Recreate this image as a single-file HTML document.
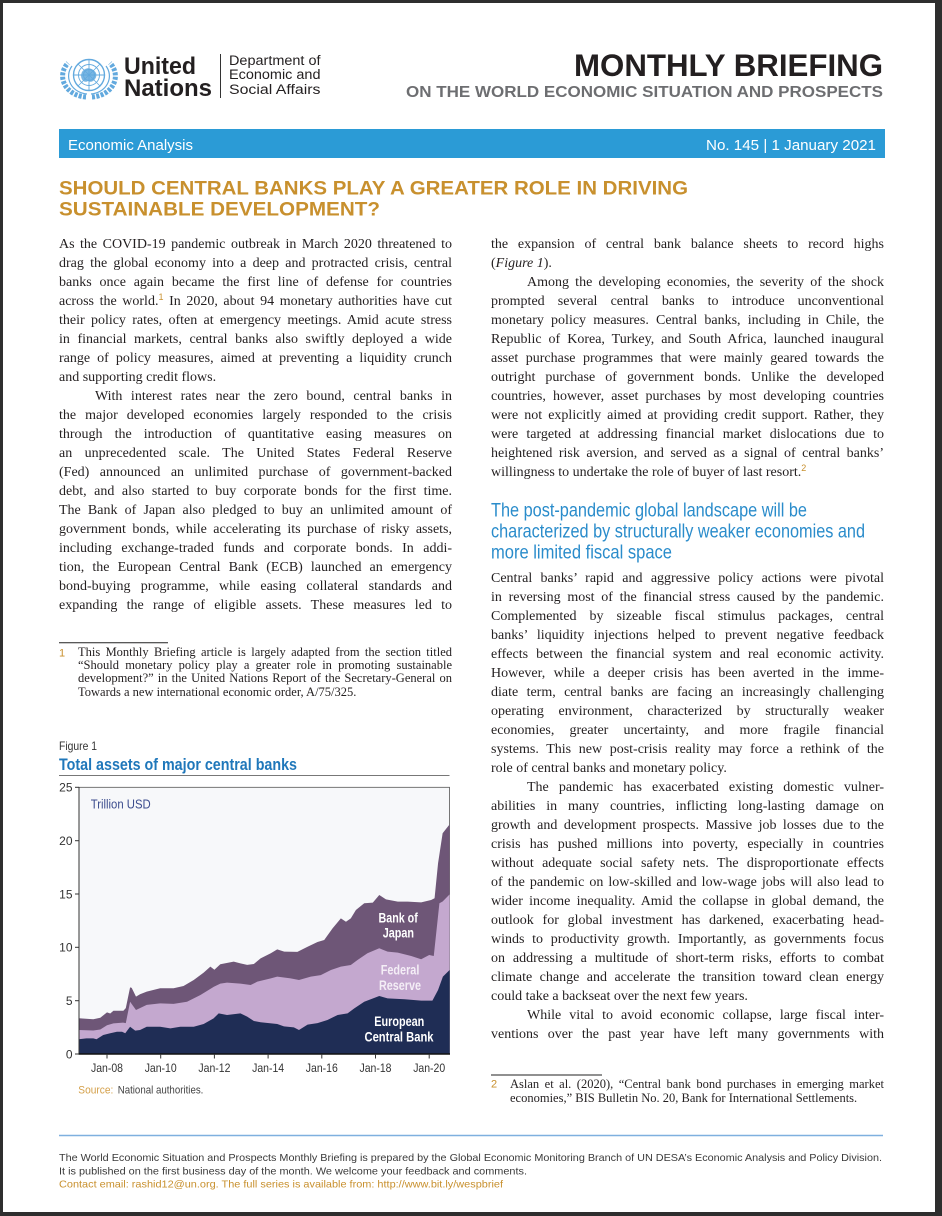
<!DOCTYPE html>
<html><head><meta charset="utf-8">
<style>
html,body{margin:0;padding:0;}
body{width:942px;height:1216px;background:#2e2e2e;position:relative;overflow:hidden;}
#page{position:absolute;left:3px;top:3px;width:932px;height:1209px;background:#fff;}
svg{position:absolute;left:0;top:0;}
.col{position:absolute;width:393px;font-family:"Liberation Serif",serif;font-size:14px;color:#231f20;}
.col div{height:19px;line-height:19px;text-align:justify;text-align-last:justify;overflow:visible;}
.col div.e{text-align:left;text-align-last:left;}
.col div.i{padding-left:36px;}
.fn{position:absolute;width:374px;font-family:"Liberation Serif",serif;font-size:12.5px;color:#231f20;}
.fn div{text-align:justify;text-align-last:justify;}
.fn div.e{text-align:left;text-align-last:left;}
.s{font-family:"Liberation Sans",sans-serif;font-size:9px;color:#c8902e;position:relative;top:-5px;}
</style></head>
<body>
<div id="page"></div>
<svg width="942" height="1216" viewBox="0 0 942 1216" xmlns="http://www.w3.org/2000/svg" font-family="Liberation Sans, sans-serif">
  <!-- UN emblem -->
  <g transform="translate(89,75)" fill="none" stroke="#62a9de">
    <circle r="15.5" stroke-width="1.4"/>
    <circle r="10.5" stroke-width="0.9"/>
    <circle r="5.5" stroke-width="0.9"/>
    <line x1="-15.5" y1="0" x2="15.5" y2="0" stroke-width="0.9"/>
    <line x1="0" y1="-15.5" x2="0" y2="15.5" stroke-width="0.9"/>
    <line x1="-11" y1="-11" x2="11" y2="11" stroke-width="0.8"/>
    <line x1="-11" y1="11" x2="11" y2="-11" stroke-width="0.8"/>
    <path d="M-7,-3 C-3,-9 4,-7 7,-2 C9,3 3,9 -1,6 C-5,9 -10,3 -7,-3Z" fill="#62a9de" stroke="none" opacity="0.85"/>
    <path d="M-3,22 A25 21 0 0 1 -21,-12" stroke-width="5" stroke-dasharray="3 1.4"/>
    <path d="M3,22 A25 21 0 0 0 21,-12" stroke-width="5" stroke-dasharray="3 1.4"/>
    <path d="M-2,19 A20 18 0 0 1 -17,-9" stroke-width="1.2"/>
    <path d="M2,19 A20 18 0 0 0 17,-9" stroke-width="1.2"/>
  </g>
  <text x="124" y="74" font-size="24" font-weight="bold" fill="#231f20" textLength="72" lengthAdjust="spacingAndGlyphs">United</text>
  <text x="124" y="96" font-size="24" font-weight="bold" fill="#231f20" textLength="88" lengthAdjust="spacingAndGlyphs">Nations</text>
  <line x1="220.5" y1="54" x2="220.5" y2="98" stroke="#333" stroke-width="1"/>
  <text x="229" y="65" font-size="13.5" fill="#231f20" textLength="91.5" lengthAdjust="spacingAndGlyphs">Department of</text>
  <text x="229" y="79" font-size="13.5" fill="#231f20" textLength="91.5" lengthAdjust="spacingAndGlyphs">Economic and</text>
  <text x="229" y="94" font-size="13.5" fill="#231f20" textLength="91.5" lengthAdjust="spacingAndGlyphs">Social Affairs</text>

  <text x="574" y="76" font-size="31.5" font-weight="bold" fill="#231f20" textLength="309" lengthAdjust="spacingAndGlyphs">MONTHLY BRIEFING</text>
  <text x="406" y="97" font-size="16" font-weight="bold" fill="#6d6e71" textLength="477" lengthAdjust="spacingAndGlyphs">ON THE WORLD ECONOMIC SITUATION AND PROSPECTS</text>

  <rect x="59" y="129" width="826" height="29" fill="#2b9bd6"/>
  <text x="68" y="150" font-size="15" fill="#fff" textLength="125" lengthAdjust="spacingAndGlyphs">Economic Analysis</text>
  <text x="706" y="150" font-size="15" fill="#fff" textLength="170" lengthAdjust="spacingAndGlyphs">No. 145 | 1 January 2021</text>

  <text x="59" y="194.5" font-size="19.5" font-weight="bold" fill="#c8902e" textLength="629" lengthAdjust="spacingAndGlyphs">SHOULD CENTRAL BANKS PLAY A GREATER ROLE IN DRIVING</text>
  <text x="59" y="215.5" font-size="19.5" font-weight="bold" fill="#c8902e" textLength="321" lengthAdjust="spacingAndGlyphs">SUSTAINABLE DEVELOPMENT?</text>

  <!-- right heading -->
  <text x="491" y="516.7" font-size="19.5" fill="#2a8ccb" textLength="316" lengthAdjust="spacingAndGlyphs">The post-pandemic global landscape will be</text>
  <text x="491" y="537.5" font-size="19.5" fill="#2a8ccb" textLength="374" lengthAdjust="spacingAndGlyphs">characterized by structurally weaker economies and</text>
  <text x="491" y="558.5" font-size="19.5" fill="#2a8ccb" textLength="181" lengthAdjust="spacingAndGlyphs">more limited fiscal space</text>

  <!-- footnote rules & numbers -->
  <line x1="59" y1="642.7" x2="168" y2="642.7" stroke="#222" stroke-width="1"/>
  <text x="59" y="656.7" font-size="11" fill="#c8902e">1</text>
  <line x1="491" y1="1075" x2="602" y2="1075" stroke="#222" stroke-width="1"/>
  <text x="491" y="1087.7" font-size="11" fill="#c8902e">2</text>

  <!-- Figure -->
  <text x="59" y="750" font-size="12" fill="#333" textLength="38" lengthAdjust="spacingAndGlyphs">Figure 1</text>
  <text x="59" y="770" font-size="16.5" font-weight="bold" fill="#1f77ba" textLength="238" lengthAdjust="spacingAndGlyphs">Total assets of major central banks</text>
  <line x1="59" y1="775.5" x2="449.5" y2="775.5" stroke="#777" stroke-width="1"/>
  <rect x="79" y="787.3" width="370.5" height="266.7" fill="#f7f8fa" stroke="#555" stroke-width="0.8"/>

  <g transform="translate(107,1054) scale(26.85,-10.667)" stroke="none">
    <polygon fill="#6e5677" points="-1.05,0 -1.05,3.35 -0.51,3.26 -0.25,3.4 0,3.9 0.12,3.8 0.24,4.06 0.61,4.06 0.7,4.3 0.86,6.25 0.92,6.2 1.08,5.38 1.23,5.6 1.48,5.85 1.98,6.16 2.48,6.16 2.85,6.38 3.23,6.94 3.6,7.63 3.85,8.19 4.0,7.9 4.22,8.41 4.72,8.66 4.97,8.5 5.22,8.35 5.47,8.44 5.72,8.97 6.1,9.44 6.34,9.81 6.6,9.6 7.09,9.57 7.47,10.06 7.84,10.5 8.09,10.69 8.4,11.78 8.71,12.72 8.9,12.4 9.08,12.72 9.27,13.5 9.58,14.13 9.9,14.19 10.14,14.9 10.39,14.5 10.83,14.28 11.2,14.28 11.7,14.22 12.07,14.44 12.2,14.6 12.33,17.88 12.5,20.69 12.76,21.53 12.76,0"/>
    <polygon fill="#c4a8cf" points="-1.05,0 -1.05,2.25 -0.51,2.2 -0.25,2.3 0,2.7 0.24,2.87 0.6,2.94 0.7,2.9 0.86,4.9 1.08,4.12 1.48,4.6 1.98,4.75 2.48,4.7 2.98,4.9 3.48,5.53 3.98,6.31 4.22,6.6 4.47,6.69 4.97,6.6 5.35,6.47 5.6,6.78 6.1,7.09 6.34,7.25 6.84,7.09 7.15,6.94 7.59,7.25 7.96,7.4 8.34,7.87 8.71,8.19 9.08,8.34 9.33,8.81 9.7,9.44 10.14,9.91 10.45,9.6 10.83,9.5 11.33,9.19 11.7,8.88 12.0,9.28 12.17,9.19 12.38,14.13 12.5,14.3 12.76,14.97 12.76,0"/>
    <polygon fill="#1f2d55" points="-1.05,0 -1.05,1.38 -0.77,1.47 -0.51,1.47 -0.39,1.38 -0.14,1.78 0.12,1.94 0.37,2.09 0.56,2.09 0.68,1.94 0.86,2.56 1.05,2.19 1.23,2.25 1.48,2.56 1.98,2.56 2.36,2.4 2.73,2.56 3.23,2.56 3.6,2.81 3.97,3.34 4.16,3.81 4.47,3.66 4.97,3.81 5.22,3.5 5.47,3.09 5.72,2.98 6.34,2.81 6.59,2.59 6.96,2.5 7.15,2.25 7.47,2.75 7.84,2.9 8.21,3.19 8.59,3.66 8.96,3.81 9.21,4.28 9.58,4.9 10.14,5.44 10.45,5.22 11.08,5.13 11.7,5.0 12.12,5.0 12.33,6.0 12.51,7.25 12.76,7.87 12.76,0"/>
  </g>
  <line x1="79" y1="787" x2="79" y2="1054" stroke="#333" stroke-width="1"/>
  <line x1="78.5" y1="1054" x2="450" y2="1054" stroke="#111" stroke-width="1.5"/>
  <g stroke="#333" stroke-width="1">
    <line x1="75" y1="1054" x2="79" y2="1054"/>
    <line x1="75" y1="1000.7" x2="79" y2="1000.7"/>
    <line x1="75" y1="947.3" x2="79" y2="947.3"/>
    <line x1="75" y1="894" x2="79" y2="894"/>
    <line x1="75" y1="840.7" x2="79" y2="840.7"/>
    <line x1="75" y1="787.3" x2="79" y2="787.3"/>
    <line x1="107" y1="1054" x2="107" y2="1058.5"/>
    <line x1="160.7" y1="1054" x2="160.7" y2="1058.5"/>
    <line x1="214.4" y1="1054" x2="214.4" y2="1058.5"/>
    <line x1="268.1" y1="1054" x2="268.1" y2="1058.5"/>
    <line x1="321.8" y1="1054" x2="321.8" y2="1058.5"/>
    <line x1="375.5" y1="1054" x2="375.5" y2="1058.5"/>
    <line x1="429.2" y1="1054" x2="429.2" y2="1058.5"/>
  </g>
  <g font-size="12" fill="#333" text-anchor="end">
    <text x="72.5" y="1058.3">0</text>
    <text x="72.5" y="1005">5</text>
    <text x="72.5" y="951.6">10</text>
    <text x="72.5" y="898.3">15</text>
    <text x="72.5" y="845">20</text>
    <text x="72.5" y="791.6">25</text>
  </g>
  <g font-size="12" fill="#333">
    <text x="91" y="1072" textLength="32" lengthAdjust="spacingAndGlyphs">Jan-08</text>
    <text x="144.7" y="1072" textLength="32" lengthAdjust="spacingAndGlyphs">Jan-10</text>
    <text x="198.4" y="1072" textLength="32" lengthAdjust="spacingAndGlyphs">Jan-12</text>
    <text x="252.1" y="1072" textLength="32" lengthAdjust="spacingAndGlyphs">Jan-14</text>
    <text x="305.8" y="1072" textLength="32" lengthAdjust="spacingAndGlyphs">Jan-16</text>
    <text x="359.5" y="1072" textLength="32" lengthAdjust="spacingAndGlyphs">Jan-18</text>
    <text x="413.2" y="1072" textLength="32" lengthAdjust="spacingAndGlyphs">Jan-20</text>
  </g>
  <text x="90.7" y="808.3" font-size="13" fill="#3c4d8e" textLength="60" lengthAdjust="spacingAndGlyphs">Trillion USD</text>
  <g font-size="13.5" font-weight="bold" fill="#fff">
    <text x="378.5" y="922.3" textLength="39.3" lengthAdjust="spacingAndGlyphs">Bank of</text>
    <text x="382.7" y="937.3" textLength="31.3" lengthAdjust="spacingAndGlyphs">Japan</text>
    <text x="380.7" y="974.3" textLength="38.7" lengthAdjust="spacingAndGlyphs" fill="#f4eef6">Federal</text>
    <text x="379" y="990" textLength="42" lengthAdjust="spacingAndGlyphs" fill="#f4eef6">Reserve</text>
    <text x="374.3" y="1026" textLength="50" lengthAdjust="spacingAndGlyphs">European</text>
    <text x="364.5" y="1041.7" textLength="69" lengthAdjust="spacingAndGlyphs">Central Bank</text>
  </g>
  <text x="78.3" y="1093.3" font-size="11" fill="#d4a04a" textLength="35" lengthAdjust="spacingAndGlyphs">Source:</text>
  <text x="117.7" y="1093.3" font-size="11" fill="#444" textLength="85.7" lengthAdjust="spacingAndGlyphs">National authorities.</text>

  <!-- footer -->
  <line x1="59" y1="1135.5" x2="883" y2="1135.5" stroke="#7fb0df" stroke-width="1.5"/>
  <text x="59" y="1161" font-size="10.5" fill="#3a3a3a" textLength="823" lengthAdjust="spacingAndGlyphs">The World Economic Situation and Prospects Monthly Briefing is prepared by the Global Economic Monitoring Branch of UN DESA’s Economic Analysis and Policy Division.</text>
  <text x="59" y="1174.3" font-size="10.5" fill="#3a3a3a" textLength="468" lengthAdjust="spacingAndGlyphs">It is published on the first business day of the month. We welcome your feedback and comments.</text>
  <text x="59" y="1187.7" font-size="10.5" fill="#c8902e" textLength="444" lengthAdjust="spacingAndGlyphs">Contact email: rashid12@un.org. The full series is available from: http://www.bit.ly/wespbrief</text>
</svg>

<div class="col" style="left:59px;top:234.5px;">
<div>As the COVID-19 pandemic outbreak in March 2020 threatened to</div>
<div>drag the global economy into a deep and protracted crisis, central</div>
<div>banks once again became the first line of defense for countries</div>
<div>across the world.<span class="s">1</span> In 2020, about 94 monetary authorities have cut</div>
<div>their policy rates, often at emergency meetings. Amid acute stress</div>
<div>in financial markets, central banks also swiftly deployed a wide</div>
<div>range of policy measures, aimed at preventing a liquidity crunch</div>
<div class="e">and supporting credit flows.</div>
<div class="i">With interest rates near the zero bound, central banks in</div>
<div>the major developed economies largely responded to the crisis</div>
<div>through the introduction of quantitative easing measures on</div>
<div>an unprecedented scale. The United States Federal Reserve</div>
<div>(Fed) announced an unlimited purchase of government-backed</div>
<div>debt, and also started to buy corporate bonds for the first time.</div>
<div>The Bank of Japan also pledged to buy an unlimited amount of</div>
<div>government bonds, while accelerating its purchase of risky assets,</div>
<div>including exchange-traded funds and corporate bonds. In addi-</div>
<div>tion, the European Central Bank (ECB) launched an emergency</div>
<div>bond-buying programme, while easing collateral standards and</div>
<div>expanding the range of eligible assets. These measures led to</div>
</div>

<div class="fn" style="left:78px;top:646px;line-height:13.2px;">
<div>This Monthly Briefing article is largely adapted from the section titled</div>
<div>“Should monetary policy play a greater role in promoting sustainable</div>
<div>development?” in the United Nations Report of the Secretary-General on</div>
<div class="e">Towards a new international economic order, A/75/325.</div>
</div>

<div class="col" style="left:491px;top:234.5px;">
<div>the expansion of central bank balance sheets to record highs</div>
<div class="e">(<i>Figure 1</i>).</div>
<div class="i">Among the developing economies, the severity of the shock</div>
<div>prompted several central banks to introduce unconventional</div>
<div>monetary policy measures. Central banks, including in Chile, the</div>
<div>Republic of Korea, Turkey, and South Africa, launched inaugural</div>
<div>asset purchase programmes that were mainly geared towards the</div>
<div>outright purchase of government bonds. Unlike the developed</div>
<div>countries, however, asset purchases by most developing countries</div>
<div>were not explicitly aimed at providing credit support. Rather, they</div>
<div>were targeted at addressing financial market dislocations due to</div>
<div>heightened risk aversion, and served as a signal of central banks’</div>
<div class="e">willingness to undertake the role of buyer of last resort.<span class="s">2</span></div>
</div>

<div class="col" style="left:491px;top:568.5px;">
<div>Central banks’ rapid and aggressive policy actions were pivotal</div>
<div>in reversing most of the financial stress caused by the pandemic.</div>
<div>Complemented by sizeable fiscal stimulus packages, central</div>
<div>banks’ liquidity injections helped to prevent negative feedback</div>
<div>effects between the financial system and real economic activity.</div>
<div>However, while a deeper crisis has been averted in the imme-</div>
<div>diate term, central banks are facing an increasingly challenging</div>
<div>operating environment, characterized by structurally weaker</div>
<div>economies, greater uncertainty, and more fragile financial</div>
<div>systems. This new post-crisis reality may force a rethink of the</div>
<div class="e">role of central banks and monetary policy.</div>
<div class="i">The pandemic has exacerbated existing domestic vulner-</div>
<div>abilities in many countries, inflicting long-lasting damage on</div>
<div>growth and development prospects. Massive job losses due to the</div>
<div>crisis has pushed millions into poverty, especially in countries</div>
<div>without adequate social safety nets. The disproportionate effects</div>
<div>of the pandemic on low-skilled and low-wage jobs will also lead to</div>
<div>wider income inequality. Amid the collapse in global demand, the</div>
<div>outlook for global investment has darkened, exacerbating head-</div>
<div>winds to productivity growth. Importantly, as governments focus</div>
<div>on addressing a multitude of short-term risks, efforts to combat</div>
<div>climate change and accelerate the transition toward clean energy</div>
<div class="e">could take a backseat over the next few years.</div>
<div class="i">While vital to avoid economic collapse, large fiscal inter-</div>
<div>ventions over the past year have left many governments with</div>
</div>

<div class="fn" style="left:510px;top:1076.5px;line-height:14px;">
<div>Aslan et al. (2020), “Central bank bond purchases in emerging market</div>
<div class="e">economies,” BIS Bulletin No. 20, Bank for International Settlements.</div>
</div>
</body></html>
